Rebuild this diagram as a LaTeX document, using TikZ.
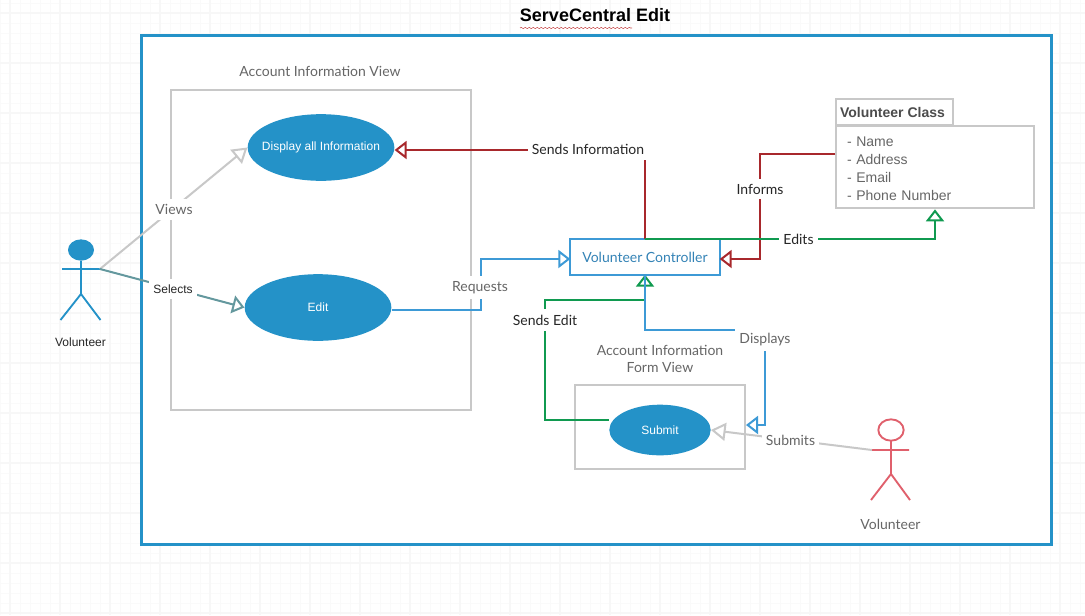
\documentclass[tikz,border=0pt]{standalone}
\usepackage{fontspec}
\setmainfont{Liberation Sans}
\newfontfamily\latofont{Lato}
\usepackage{tikz}
\usetikzlibrary{arrows.meta,positioning,shapes.geometric,decorations.pathmorphing}
\definecolor{ucblue}{HTML}{2492C8}
\definecolor{ctlblue}{HTML}{3D9AD6}
\definecolor{boxgray}{HTML}{C8C8C8}
\definecolor{txtgray}{HTML}{666666}
\definecolor{ucred}{HTML}{A8282C}
\definecolor{ucgreen}{HTML}{109A50}
\definecolor{ucteal}{HTML}{64989E}
\definecolor{pinkred}{HTML}{E0606C}
\tikzset{
  usecase/.style={ellipse, fill=ucblue, text=white, inner sep=0pt, font=\fontsize{9}{11}\selectfont},
  box/.style={draw=boxgray, line width=1.5pt, fill=white},
  lbl/.style={fill=white, inner xsep=3pt, inner ysep=4pt, text=txtgray, font=\latofont\fontsize{10.5}{12.75}\selectfont, align=center},
  lbldark/.style={lbl, text=black!85},
  tip/.style={-{Triangle[open,length=9pt,width=13.5pt,line width=1.5pt]}, line width=1.5pt},
  longtip/.style={-{Triangle[open,length=11pt,width=13.5pt,line width=1.5pt]}, line width=1.5pt},
  actor/.style={line width=1.4pt},
}
\begin{document}
\begin{tikzpicture}[x=0.75pt,y=-0.75pt]
\useasboundingbox (0,0) rectangle (1085,615);
% background grid
\foreach \gx in {0,10,...,1080} \draw[black!2,line width=.7pt] (\gx,0) -- (\gx,615);
\foreach \gy in {3,13,...,613} \draw[black!2,line width=.7pt] (0,\gy) -- (1085,\gy);
\foreach \gx in {10,60,...,1080} \draw[black!3,line width=.8pt] (\gx,0) -- (\gx,615);
\foreach \gy in {13,63,...,613} \draw[black!3,line width=.8pt] (0,\gy) -- (1085,\gy);
% system frame
\node[draw=ucblue, fill=white, line width=2.2pt, minimum width=682.5pt, minimum height=382pt, inner sep=0pt] (frame) at (596.5,290) {};
\node[font=\bfseries\fontsize{13.5}{16}\selectfont] (title) at (595,15) {ServeCentral Edit};
\draw[red!70!black!70, line width=.4pt, decorate, decoration={snake,amplitude=.5pt,segment length=3pt}] (520,28) coordinate (sqa) -- (632,28) coordinate (sqb);
% views
\node[box, minimum width=225pt, minimum height=240pt, inner sep=0pt] (infoview) at (321,250) {};
\node[box, minimum width=127.5pt, minimum height=63.5pt, inner sep=0pt] (formview) at (660,427) {};
\node[lbl, fill=none] (infolbl) at (320,71) {Account Information View};
\node[lbl, fill=none] (formlbl) at (660,358.5) {Account Information\\Form View};
% use cases
\node[usecase, minimum width=110pt, minimum height=50pt] (display) at (321,147.5) {\makebox[0pt]{\raisebox{-.7pt}{Display all Information}}};
\node[usecase, minimum width=110pt, minimum height=50pt] (edit) at (318,307.5) {Edit};
\node[usecase, minimum width=76pt, minimum height=38pt] (submit) at (660,430) {Submit};
% controller and class
\node[draw=ctlblue, line width=1.5pt, outer sep=0pt, fill=white, text=ctlblue!85!black, minimum width=112pt, minimum height=26.5pt, inner sep=0pt, font=\latofont\fontsize{10.5}{13}\selectfont] (ctrl) at (645,257) {Volunteer Controller};
\node[box, minimum width=148pt, minimum height=62pt, inner sep=0pt] (cls) at (935,167) {};
\node[inner sep=0pt, text width=132pt, align=left, text=txtgray, font=\fontsize{10.5}{13.5}\selectfont] (clstext) at ([yshift=-1.5pt]cls.center) {- Name\\- Address\\- Email\\- Phone Number};
\node[box, minimum width=87.5pt, minimum height=19pt, inner sep=0pt, text=black!70, font=\bfseries\fontsize{10.5}{13}\selectfont] (clshead) at (894.5,112) {Volunteer Class\kern3pt};
% actors
\coordinate (act1) at (81,250);
\fill[ucblue] (act1) ellipse[x radius=9.75pt, y radius=8pt];
\draw[ucblue, actor] (81,261) -- (81,294) (62,269) -- (100,269) (60.5,320) -- (81,294) -- (100.5,320);
\coordinate (act1hand) at (100,269);
\node[font=\fontsize{9}{11}\selectfont, text=black!85] (act1lbl) at (80.5,342) {Volunteer};
\coordinate (act2) at (891,430);
\draw[pinkred, actor] (act2) ellipse[x radius=9.5pt, y radius=8pt];
\draw[pinkred, actor] (891,441) -- (891,474) (872,450) -- (909,450) (871,500) -- (891,474) -- (910,500);
\coordinate (act2hand) at (872,450);
\node[lbl, fill=none] (act2lbl) at (890.5,524) {Volunteer};
% connectors
\draw[longtip, draw=boxgray] (act1hand) -- (display.west);
\node[lbl] (views) at (174,209) {Views};
\draw[tip, draw=ucteal] (act1hand) -- (edit.west);
\node[lbl, text=black!85, font=\fontsize{9}{11}\selectfont] (selects) at (173,289) {Selects};
\coordinate (reqa) at (481,310);
\coordinate (reqb) at (481,259);
\draw[tip, draw=ctlblue] (edit.east |- reqa) -- (reqa) -- (reqb) -- (ctrl.west |- reqb);
\node[lbl] (requests) at (480,287.5) {Requests};
\coordinate (sendsa) at (645,150);
\draw[tip, draw=ucred] (ctrl.north) -- (sendsa) -- (display.east |- sendsa);
\node[lbldark] (sends) at (588,149) {Sends Information};
\coordinate (infa) at (760,154);
\coordinate (infb) at (760,259);
\draw[tip, draw=ucred] (cls.west |- infa) -- (infa) -- (infb) -- (ctrl.east |- infb);
\node[lbldark] (informs) at (760,189) {Informs};
\draw[tip, draw=ucgreen] (ctrl.north) -| (cls.south);
\node[lbldark] (edits) at (798.5,239) {Edits};
\coordinate (sea) at (545,420);
\coordinate (seb) at (545,300);
\draw[tip, draw=ucgreen] (submit.west |- sea) -- (sea) -- (seb) -- (645,300) -- (ctrl.south);
\node[lbldark] (sendedit) at (545,320) {Sends Edit};
\coordinate (disa) at (645,330);
\coordinate (disb) at (765,330);
\coordinate (disc) at (765,425);
\draw[tip, draw=ctlblue] (ctrl.south) -- (disa) -- (disb) -- (disc) -- (formview.east |- disc);
\node[lbl] (displays) at (765,339.5) {Displays};
\draw[longtip, draw=boxgray] (act2hand) -- (submit.east);
\node[lbl] (submits) at (790.5,440) {Submits};
\end{tikzpicture}
\end{document}
